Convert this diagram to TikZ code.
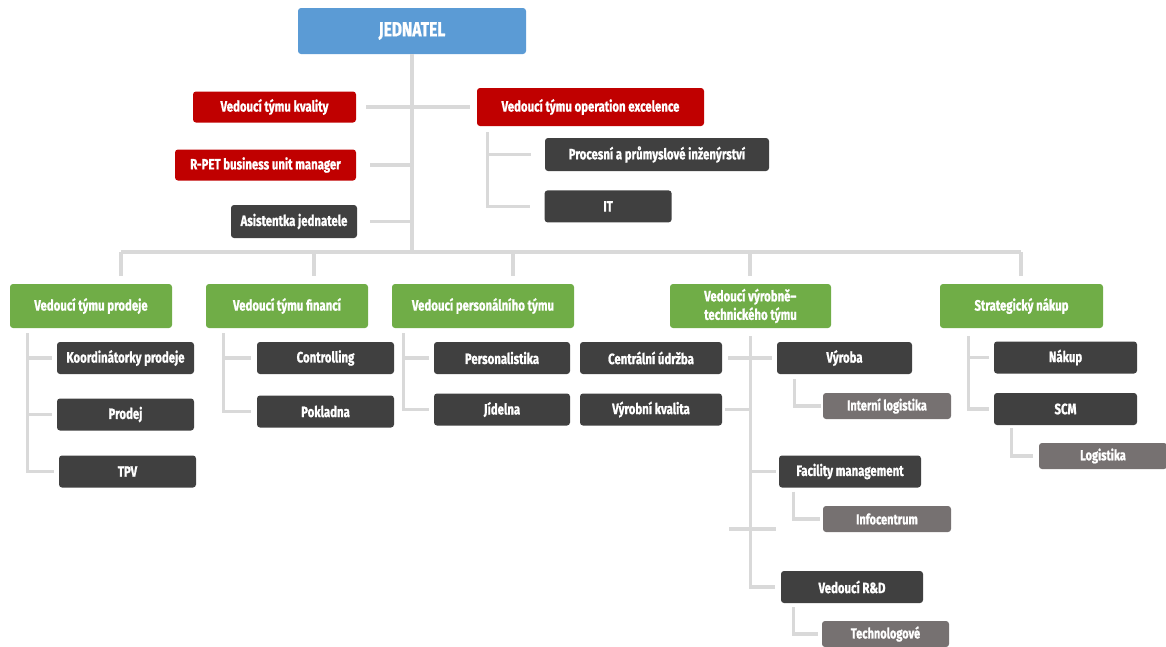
\documentclass[tikz,border=0pt]{standalone}
\usepackage{fontspec}
\setmainfont{Fira Sans}[FakeStretch=0.76,BoldFeatures={FakeBold=1}]
\usetikzlibrary{positioning}
\definecolor{bossblue}{HTML}{5B9BD5}
\definecolor{leadred}{HTML}{C00000}
\definecolor{headgreen}{HTML}{70AD47}
\definecolor{unitdark}{HTML}{404040}
\definecolor{subgray}{HTML}{767171}
\definecolor{linegray}{HTML}{D9D9D9}

\begin{document}
\begin{tikzpicture}[x=1pt,y=-1pt]
  \tikzstyle{box}=[rounded corners=3pt,text=white,font=\bfseries\fontsize{15}{18.5}\selectfont,inner sep=0pt,minimum height=32pt,align=center]
  \tikzstyle{lead}=[box,fill=leadred,minimum height=31pt]
  \tikzstyle{head}=[box,fill=headgreen,minimum height=44pt]
  \tikzstyle{unit}=[box,fill=unitdark]
  \tikzstyle{sub}=[box,fill=subgray,minimum height=26pt,font=\bfseries\fontsize{14.5}{16}\selectfont]
  \tikzstyle{link}=[draw=linegray,line width=3.2pt]
  \useasboundingbox (0,0) rectangle (1166,646);

  % top
  \node[box,fill=bossblue,minimum width=228pt,minimum height=46pt,font=\bfseries\fontsize{20.5}{22}\selectfont] (boss) at (412,31) {JEDNATEL};
  \node[lead,minimum width=163pt] (kvalita) at (274.5,107) {Vedoucí týmu kvality};
  \node[lead,minimum width=227pt,minimum height=38pt] (opex) at (590.5,107) {Vedoucí týmu operation excelence};
  \node[lead,minimum width=181pt] (rpet) at (265.5,165) {R-PET business unit manager};
  \node[unit,minimum width=126pt,minimum height=33pt] (asist) at (294,221.5) {Asistentka jednatele};
  \node[unit,minimum width=224pt,minimum height=33pt] (procesni) at (657,154.5) {Procesní a průmyslové inženýrství};
  \node[unit,minimum width=127pt,below left=19pt and -127pt of procesni.south west] (it) {IT};

  % heads
  \node[head,minimum width=162pt] (prodeje) at (91,306) {Vedoucí týmu prodeje};
  \node[head,minimum width=162pt] (financi) at (287,306) {Vedoucí týmu financí};
  \node[head,minimum width=182pt] (personal) at (483,306) {Vedoucí personálního týmu};
  \node[head,minimum width=161pt,align=left] (vyrtech) at (750.5,306) {Vedoucí výrobně–\\technického týmu};
  \node[head,minimum width=163pt] (strateg) at (1021.5,306) {Strategický nákup};

  % units
  \node[unit,minimum width=137pt] (koord) at (125.5,358) {Koordinátorky prodeje};
  \node[unit,minimum width=137pt] (prodej) at (125.5,414.5) {Prodej};
  \node[unit,minimum width=137pt] (tpv) at (127.5,471.5) {TPV};
  \node[unit,minimum width=137pt] (controlling) at (325.5,358) {Controlling};
  \node[unit,minimum width=137pt] (pokladna) at (325.5,411.5) {Pokladna};
  \node[unit,minimum width=136pt] (personalistika) at (502,358) {Personalistika};
  \node[unit,minimum width=136pt] (jidelna) at (502,409.5) {Jídelna};
  \node[unit,minimum width=142pt] (udrzba) at (651,358) {Centrální údržba};
  \node[unit,minimum width=142pt] (vkvalita) at (651,409.5) {Výrobní kvalita};
  \node[unit,minimum width=135pt] (vyroba) at (844.5,358) {Výroba};
  \node[unit,minimum width=142pt] (facility) at (850,471.5) {Facility management};
  \node[unit,minimum width=142pt] (rnd) at (852,587) {Vedoucí R\&D};
  \node[unit,minimum width=143pt] (nakup) at (1065.5,357.5) {Nákup};
  \node[unit,minimum width=143pt] (scm) at (1065.5,409) {SCM};
  \node[sub,minimum width=128pt] (intlog) at (887,406) {Interní logistika};
  \node[sub,minimum width=128pt] (infocentrum) at (887,519) {Infocentrum};
  \node[sub,minimum width=127pt] (technologove) at (885.5,634) {Technologové};
  \node[sub,minimum width=128pt] (logistika) at (1103,456) {Logistika};

  % trunk and bus
  \coordinate (busC) at (412,252);
  \coordinate (busL) at (121,252);
  \coordinate (busR) at (1021,252);
  \draw[link] (boss.south) -- (busC);
  \draw[link] (busL) -- (busR);
  \foreach \x/\n in {121/prodeje,314/financi,513/personal,750/vyrtech,1021/strateg}{
    \coordinate (d\n) at (\x,252);
    \draw[link,shorten >=8pt] (d\n) -- (d\n |- \n.north);
  }
  \draw[link] ([xshift=10pt]kvalita.east) -- ([xshift=-7pt]opex.west);
  \draw[link] ([xshift=14pt]rpet.east) -- (rpet -| boss);
  \draw[link] ([xshift=13pt]asist.east) -- (asist -| boss);
  \foreach \c in {procesni,it}
    \draw[link] ([xshift=11pt,yshift=-6pt]opex.south west) |- ([xshift=-14pt]\c.west);

  % departments
  \foreach \c in {koord,prodej,tpv}
    \draw[link] ([xshift=18pt,yshift=-5pt]prodeje.south west) |- ([xshift=-5pt]\c.west);
  \foreach \c in {controlling,pokladna}
    \draw[link] ([xshift=18pt,yshift=-5pt]financi.south west) |- ([xshift=-6pt]\c.west);
  \foreach \c in {personalistika,jidelna}
    \draw[link] ([xshift=12pt,yshift=-5pt]personal.south west) |- ([xshift=-5pt]\c.west);
  \foreach \c in {nakup,scm}
    \draw[link] ([xshift=29pt,yshift=-8pt]strateg.south west) |- ([xshift=-5pt]\c.west);
  \draw[link] ([xshift=18pt,yshift=-3pt]scm.south west) |- ([xshift=-6pt]logistika.west);

  % production
  \draw[link] ([yshift=-8pt]vyrtech.south) |- ([xshift=-6pt]rnd.west);
  \draw[link] ([xshift=6pt]udrzba.east) -- ([xshift=-5pt]vyroba.west);
  \draw[link] ([xshift=3pt]vkvalita.east) -- (vkvalita -| vyrtech);
  \draw[link] (facility -| vyrtech) -- ([xshift=-3pt]facility.west);
  \coordinate (crossL) at (729,529);
  \coordinate (crossR) at (776,529);
  \draw[link] (crossL) -- (crossR);
  \draw[link] ([xshift=18pt,yshift=-5pt]vyroba.south west) |- ([xshift=-2pt]intlog.west);
  \draw[link] ([xshift=15pt,yshift=-4pt]facility.south west) |- ([xshift=-3pt]infocentrum.west);
  \draw[link] ([xshift=13pt,yshift=-4pt]rnd.south west) |- ([xshift=-4pt]technologove.west);
\end{tikzpicture}
\end{document}
